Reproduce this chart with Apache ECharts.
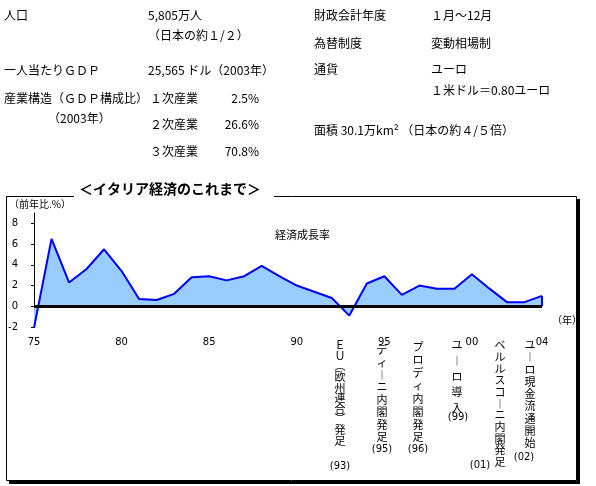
<!DOCTYPE html>
<html>
<head>
<meta charset="utf-8">
<script src="https://cdn.jsdelivr.net/npm/echarts@6.0.0/dist/echarts.min.js"></script>
<style>
  html, body { margin: 0; padding: 0; background: #fff; }
  #main { width: 596px; height: 486px; }
</style>
</head>
<body>
<div id="main"></div>
<script>
// 実質GDP成長率（前年比 %）
const years = [1975, 1976, 1977, 1978, 1979, 1980, 1981, 1982, 1983, 1984,
  1985, 1986, 1987, 1988, 1989, 1990, 1991, 1992, 1993, 1994,
  1995, 1996, 1997, 1998, 1999, 2000, 2001, 2002, 2003, 2004]
const growth = [-2.1, 6.5, 2.3, 3.6, 5.5, 3.4, 0.7, 0.6, 1.2, 2.8,
  2.9, 2.5, 2.9, 3.9, 2.9, 2.0, 1.4, 0.8, -0.9, 2.2,
  2.9, 1.1, 2.0, 1.7, 1.7, 3.1, 1.7, 0.4, 0.4, 1.0]
const xTicks = [1975, 1980, 1985, 1990, 1995, 2000, 2004]
const yTicks = [-2, 0, 2, 4, 6, 8]

// 出来事
const eventTexts = ['ＥＵ（欧州連合）発足', 'ディーニ内閣発足', 'プロディ内閣発足',
  'ユーロ導入', 'ベルルスコーニ内閣発足', 'ユーロ現金流通開始']
const eventYears = ['(93)', '(95)', '(96)', '(99)', '(01)', '(02)']

const JP = '"Noto Sans CJK JP", sans-serif'
const NUM = '"DejaVu Sans", sans-serif'

const txt = (x, y, s, extra) => ({
  type: 'text',
  x: x,
  y: y,
  z: 100,
  style: Object.assign({
    text: s,
    font: '12px ' + JP,
    fill: '#000',
    textVerticalAlign: 'middle'
  }, extra || {})
})

// 縦書き用に文字を並べる
const toVertical = s => s.split('')
  .map(c => (c === 'ー' ? '︱' : c === '（' ? '︵' : c === '）' ? '︶' : c))
  .join('\n')

// 出来事ラベルの配置（中心x、1文字目の中心y、行高、年ラベルx, y）
const eventLayout = [
  [340, 345, 10.6, 340, 466],
  [382, 350, 12.4, 382, 449],
  [418, 347, 12.9, 418, 449],
  [457, 345, 15.7, 458, 417],
  [500, 345, 11.7, 480, 465],
  [530, 345, 12.25, 524, 457]
]

const graphics = [
  // 上段の概要
  txt(4, 15, '人口'),
  txt(148, 15, '5,805万人'),
  txt(148, 35, '（日本の約１/２）'),
  txt(4, 70, '一人当たりＧＤＰ'),
  txt(148, 70, '25,565 ドル（2003年）'),
  txt(4, 98, '産業構造（ＧＤＰ構成比）'),
  txt(48, 118, '（2003年）'),
  txt(150, 98, '１次産業'),
  txt(259, 98, '2.5%', { textAlign: 'right' }),
  txt(150, 124, '２次産業'),
  txt(259, 124, '26.6%', { textAlign: 'right' }),
  txt(150, 151, '３次産業'),
  txt(259, 151, '70.8%', { textAlign: 'right' }),
  txt(314, 15, '財政会計年度'),
  txt(431, 15, '１月〜12月'),
  txt(314, 43, '為替制度'),
  txt(431, 43, '変動相場制'),
  txt(314, 69, '通貨'),
  txt(431, 69, 'ユーロ'),
  txt(431, 90, '１米ドル＝0.80ユーロ'),
  txt(314, 130, '面積 30.1万km² （日本の約４/５倍）'),

  // 枠と影
  { type: 'rect', z: 0, shape: { x: 577, y: 199, width: 3, height: 285 }, style: { fill: '#000' } },
  { type: 'rect', z: 0, shape: { x: 9, y: 481, width: 571, height: 3 }, style: { fill: '#000' } },
  { type: 'rect', z: 0, shape: { x: 6.5, y: 196.5, width: 570, height: 284 }, style: { fill: null, stroke: '#000', lineWidth: 1 } },
  { type: 'rect', z: 1, shape: { x: 74, y: 190, width: 200, height: 12 }, style: { fill: '#fff' } },
  txt(79, 189, '＜イタリア経済のこれまで＞', { font: 'bold 14px ' + JP }),
  txt(9, 204, '（前年比.%）', { font: '10px ' + JP }),
  txt(275, 235, '経済成長率', { font: '11px ' + JP }),
  txt(552, 320, '（年）', { font: '10px ' + JP })
]

eventTexts.forEach((s, i) => {
  const [cx, cy, lh, yx, yy] = eventLayout[i]
  graphics.push(txt(cx, cy - lh / 2, toVertical(s), {
    font: '11px ' + JP,
    textAlign: 'center',
    textVerticalAlign: 'top',
    lineHeight: lh
  }))
  graphics.push(txt(yx, yy, eventYears[i], { font: '10px ' + NUM, textAlign: 'center' }))
})

const chart = echarts.init(document.getElementById('main'))
const lastYear = years[years.length - 1]
const lastValue = growth[growth.length - 1]

chart.setOption({
  animation: false,
  backgroundColor: '#fff',
  graphic: graphics,
  grid: { left: 34, top: 213, width: 508, height: 114 },
  xAxis: {
    type: 'value',
    min: 1975,
    max: 2004,
    axisLine: { show: false },
    axisTick: { show: false },
    splitLine: { show: false },
    axisLabel: {
      customValues: xTicks,
      margin: 10,
      fontSize: 10,
      fontFamily: NUM,
      color: '#000',
      formatter: v => String(v % 100).padStart(2, '0')
    }
  },
  yAxis: {
    type: 'value',
    min: -2,
    max: 9,
    axisLine: { show: true, lineStyle: { color: '#000', width: 1 } },
    axisTick: { show: true, customValues: yTicks, length: 3, lineStyle: { color: '#000' } },
    splitLine: { show: false },
    axisLabel: {
      customValues: yTicks,
      margin: 16,
      fontSize: 10,
      fontFamily: NUM,
      color: '#000'
    }
  },
  series: [
    {
      type: 'line',
      data: years.map((y, i) => [y, growth[i]]),
      symbol: 'none',
      lineStyle: { color: '#0000ff', width: 2 },
      areaStyle: { color: '#99ccff', opacity: 1, origin: 0 },
      z: 3,
      markLine: {
        silent: true,
        symbol: 'none',
        label: { show: false },
        data: [
          [
            { coord: [years[0], 0], lineStyle: { color: '#000', width: 3, type: 'solid' } },
            { coord: [lastYear, 0] }
          ],
          [
            { coord: [lastYear, 0], lineStyle: { color: '#0000ff', width: 2, type: 'solid' } },
            { coord: [lastYear, lastValue] }
          ]
        ]
      }
    }
  ]
})
</script>
</body>
</html>
